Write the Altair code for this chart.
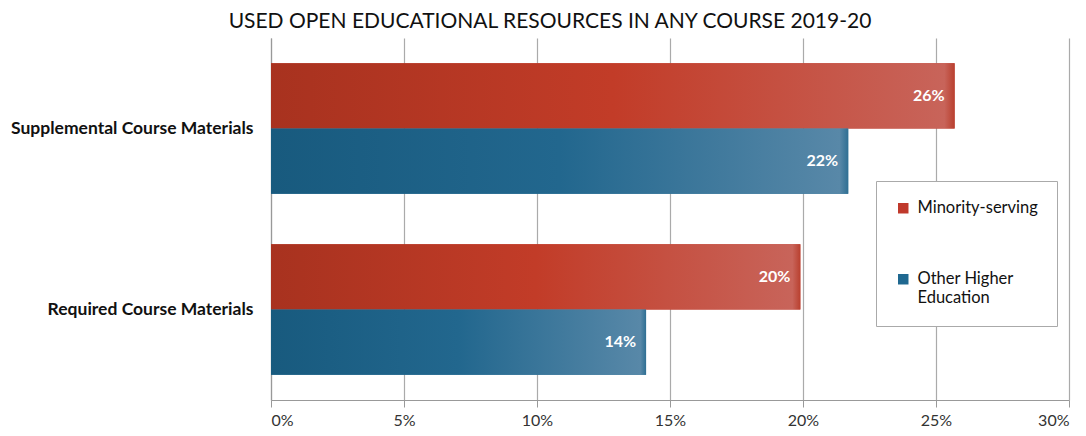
import altair as alt
import pandas as pd

categories = ["Supplemental Course Materials", "Supplemental Course Materials",
              "Required Course Materials", "Required Course Materials"]
series = ["Minority-serving", "Other Higher Education",
          "Minority-serving", "Other Higher Education"]
values = [0.257, 0.217, 0.199, 0.141]
labels = ["26%", "22%", "20%", "14%"]

cat_order = ["Supplemental Course Materials", "Required Course Materials"]
ser_order = ["Minority-serving", "Other Higher Education"]
solid = ["#c0392b", "#1f6890"]

df = pd.DataFrame({"category": categories, "series": series,
                   "value": values, "label": labels})

FONT = "Lato"

y_enc = alt.Y("category:N", sort=cat_order, title=None,
              scale=alt.Scale(paddingInner=0.28, paddingOuter=0.14),
              axis=alt.Axis(labelFont=FONT, labelFontWeight="bold", labelFontSize=17.5,
                            labelColor="#111", labelPadding=18, ticks=False, labelLimit=320,
                            domainColor="#999", domainWidth=1.2))
yoff = alt.YOffset("series:N", sort=ser_order)
x_enc = alt.X("value:Q", title=None,
              scale=alt.Scale(domain=[0, 0.30], nice=False),
              axis=alt.Axis(format=".0%", values=[0, 0.05, 0.10, 0.15, 0.20, 0.25, 0.30],
                            labelFont=FONT, labelFontSize=16, labelColor="#333",
                            labelPadding=5, tickSize=7, tickColor="#999",
                            domainColor="#999", domainWidth=1.2,
                            grid=True, gridColor="#aaaaaa", gridWidth=1.2))

base = alt.Chart(df)

legend_bars = base.mark_bar().encode(
    y=y_enc, yOffset=yoff, x=x_enc,
    color=alt.Color("series:N", sort=ser_order, title=None,
                    scale=alt.Scale(domain=ser_order, range=solid),
                    legend=alt.Legend(
                        orient="none", legendX=605, legendY=143,
                        strokeColor="#aaaaaa", padding=19, fillColor="white",
                        symbolType="square", symbolSize=110, symbolStrokeWidth=0,
                        labelFont=FONT, labelFontSize=16.5, labelColor="#111",
                        rowPadding=54, labelOffset=6, labelLimit=220,
                        labelExpr="datum.label == 'Other Higher Education' ? ['Other Higher', 'Education'] : datum.label",
                    ))
)

red_grad = alt.Gradient(gradient="linear", x1=0, x2=1, y1=0, y2=0, stops=[
    alt.GradientStop(color="#a8321f", offset=0),
    alt.GradientStop(color="#c23c28", offset=0.5),
    alt.GradientStop(color="#c8645a", offset=0.985),
    alt.GradientStop(color="#b9402f", offset=1),
])
blue_grad = alt.Gradient(gradient="linear", x1=0, x2=1, y1=0, y2=0, stops=[
    alt.GradientStop(color="#185a7e", offset=0),
    alt.GradientStop(color="#22678e", offset=0.5),
    alt.GradientStop(color="#5888a8", offset=0.985),
    alt.GradientStop(color="#2f6f93", offset=1),
])

red_bars = base.transform_filter(alt.datum.series == "Minority-serving").mark_bar(
    color=red_grad).encode(y=y_enc, yOffset=yoff, x=x_enc)
blue_bars = base.transform_filter(alt.datum.series == "Other Higher Education").mark_bar(
    color=blue_grad).encode(y=y_enc, yOffset=yoff, x=x_enc)

text = base.mark_text(align="right", baseline="middle", dx=-10, font=FONT,
                      fontWeight="bold", fontSize=16, color="white").encode(
    y=y_enc, yOffset=yoff, x=x_enc, text="label:N")

chart = alt.layer(legend_bars, red_bars, blue_bars, text).properties(
    width=798, height=362,
    padding={"left": 263, "top": 30, "right": 9, "bottom": 30},
    autosize=alt.AutoSizeParams(type="none"),
    title=alt.TitleParams("USED OPEN EDUCATIONAL RESOURCES IN ANY COURSE 2019-20",
                          font=FONT, fontSize=21, fontWeight="normal", color="#111",
                          anchor="middle", dx=-120, offset=6),
).configure_view(stroke=None)

chart.save("out.html", embed_options={"renderer": "svg", "actions": False})
